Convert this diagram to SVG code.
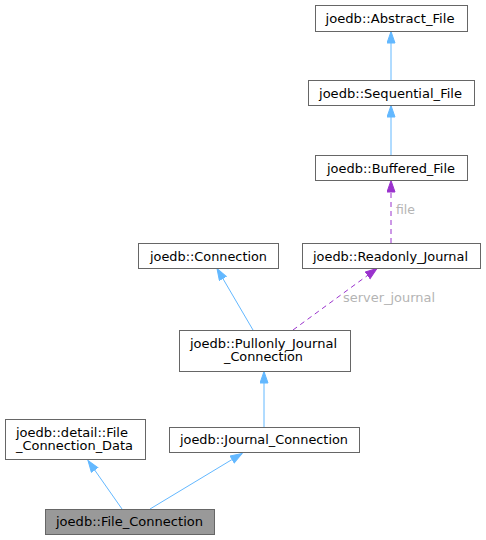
<svg xmlns="http://www.w3.org/2000/svg" width="486" height="540" viewBox="0 0 486 540">
<style>
  .box { fill: #ffffff; stroke: #666666; stroke-width: 1; }
  .cur { fill: #999999; stroke: #666666; stroke-width: 1; }
  text { font-family: "DejaVu Sans", sans-serif; font-size: 12px; fill: #000000; text-anchor: middle; }
  .lbl { fill: #b4b4b4; text-anchor: start; }
  .inh { stroke: #63b8ff; stroke-width: 1; fill: none; }
  .use { stroke: #9a32cd; stroke-width: 1; fill: none; stroke-dasharray: 5,4; }
</style>
<defs>
  <marker id="ab" markerUnits="userSpaceOnUse" markerWidth="14" markerHeight="11" refX="12" refY="4.5" orient="auto">
    <path d="M0.5,0.5 L12,4.5 L0.5,8.5 z" fill="#63b8ff" stroke="#63b8ff"/>
  </marker>
  <marker id="ap" markerUnits="userSpaceOnUse" markerWidth="14" markerHeight="11" refX="12" refY="4.5" orient="auto">
    <path d="M0.5,0.5 L12,4.5 L0.5,8.5 z" fill="#9a32cd" stroke="#9a32cd"/>
  </marker>
</defs>
<rect width="486" height="540" fill="#ffffff"/>
<g id="edges">
  <line class="inh" x1="391" y1="80" x2="391" y2="31.5" marker-end="url(#ab)"/>
  <line class="inh" x1="391" y1="155" x2="391" y2="105.5" marker-end="url(#ab)"/>
  <line class="use" x1="391" y1="243" x2="391" y2="180.5" marker-end="url(#ap)"/>
  <text class="lbl" x="396" y="214" textLength="19" lengthAdjust="spacingAndGlyphs">file</text>
  <line class="inh" x1="253" y1="330" x2="217" y2="268.5" marker-end="url(#ab)"/>
  <line class="use" x1="293" y1="330" x2="377" y2="268.5" marker-end="url(#ap)"/>
  <text class="lbl" x="343" y="302" textLength="92" lengthAdjust="spacingAndGlyphs">server_journal</text>
  <line class="inh" x1="264" y1="427" x2="264" y2="371.5" marker-end="url(#ab)"/>
  <line class="inh" x1="122" y1="509" x2="88" y2="460.5" marker-end="url(#ab)"/>
  <line class="inh" x1="150" y1="509" x2="242" y2="453.5" marker-end="url(#ab)"/>
</g>
<g id="abstract_file">
  <rect class="box" x="315.5" y="5.5" width="152" height="26"/>
  <text x="390" y="22.5" textLength="129" lengthAdjust="spacingAndGlyphs">joedb::Abstract_File</text>
</g>
<g id="sequential_file">
  <rect class="box" x="308.5" y="80.5" width="166" height="25"/>
  <text x="390.5" y="97.5" textLength="143" lengthAdjust="spacingAndGlyphs">joedb::Sequential_File</text>
</g>
<g id="buffered_file">
  <rect class="box" x="315.5" y="155.5" width="152" height="25"/>
  <text x="391" y="172.5" textLength="128" lengthAdjust="spacingAndGlyphs">joedb::Buffered_File</text>
</g>
<g id="readonly_journal">
  <rect class="box" x="302.5" y="243.5" width="178" height="25"/>
  <text x="390.5" y="260.5" textLength="155" lengthAdjust="spacingAndGlyphs">joedb::Readonly_Journal</text>
</g>
<g id="connection">
  <rect class="box" x="138.5" y="243.5" width="140" height="25"/>
  <text x="208.5" y="260.5" textLength="117" lengthAdjust="spacingAndGlyphs">joedb::Connection</text>
</g>
<g id="pullonly_journal_connection">
  <rect class="box" x="179.5" y="330.5" width="171" height="41"/>
  <text x="263.5" y="347.5" textLength="147" lengthAdjust="spacingAndGlyphs">joedb::Pullonly_Journal</text>
  <text x="263.5" y="360.5" textLength="79" lengthAdjust="spacingAndGlyphs">_Connection</text>
</g>
<g id="journal_connection">
  <rect class="box" x="169.5" y="427.5" width="190" height="25"/>
  <text x="264" y="443.5" textLength="168" lengthAdjust="spacingAndGlyphs">joedb::Journal_Connection</text>
</g>
<g id="file_connection_data">
  <rect class="box" x="5.5" y="419.5" width="140" height="40"/>
  <text x="72" y="436.5" textLength="112" lengthAdjust="spacingAndGlyphs">joedb::detail::File</text>
  <text x="74.5" y="449.5" textLength="117" lengthAdjust="spacingAndGlyphs">_Connection_Data</text>
</g>
<g id="file_connection">
  <rect class="cur" x="45.5" y="509.5" width="169" height="25"/>
  <text x="129.5" y="525.5" textLength="147" lengthAdjust="spacingAndGlyphs">joedb::File_Connection</text>
</g>
</svg>
